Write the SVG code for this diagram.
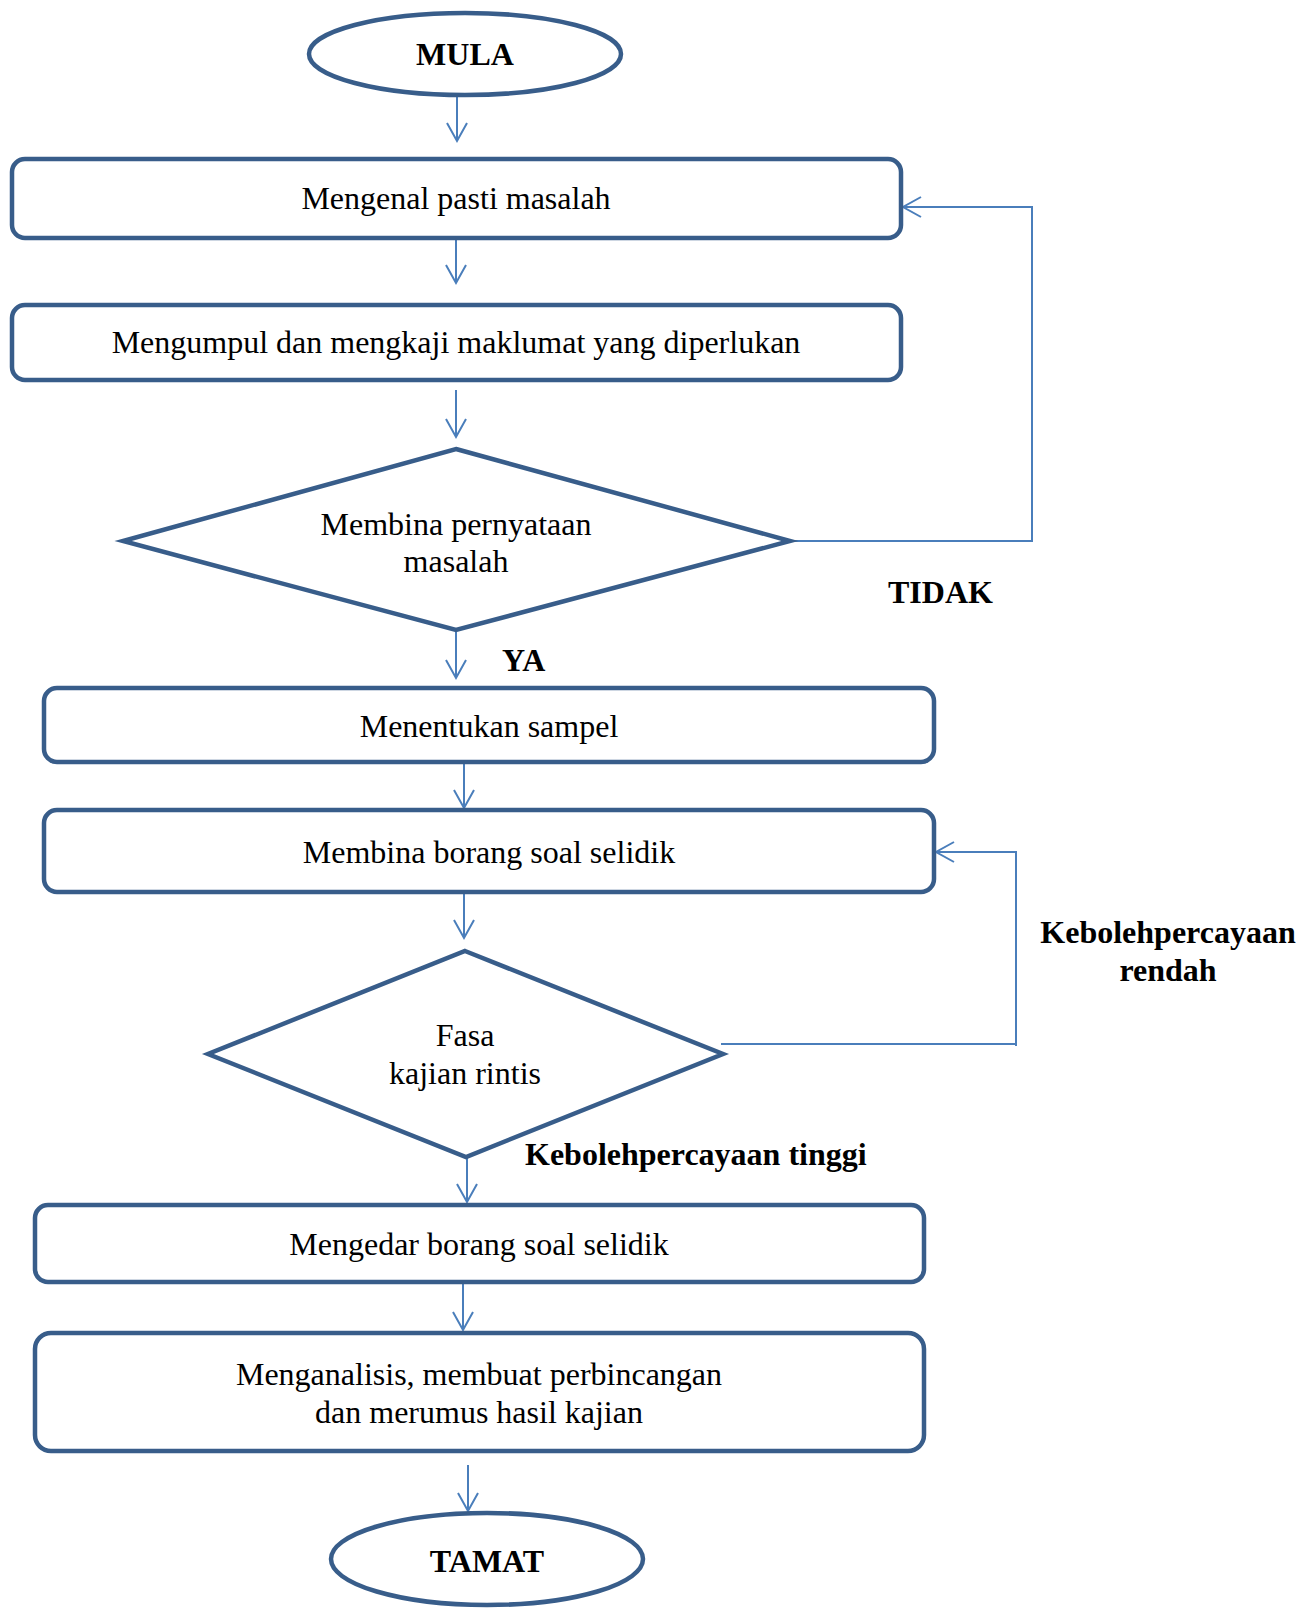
<svg xmlns="http://www.w3.org/2000/svg" width="1311" height="1608" viewBox="0 0 1311 1608">
<style>
.node{fill:#fff;stroke:#385D8A;stroke-width:4.5}
.t{font-family:"Liberation Serif","Times New Roman",serif;font-size:32px;fill:#000;text-anchor:middle}
.b{font-family:"Liberation Serif","Times New Roman",serif;font-size:32px;font-weight:bold;fill:#000}
.c{fill:none;stroke:#4A7EBB;stroke-width:2}
</style>
<defs>
<marker id="ah" viewBox="-20 -12 23 24" refX="0" refY="0" markerWidth="23" markerHeight="24" markerUnits="userSpaceOnUse" orient="auto">
<path d="M-18,-10 L0,0 L-18,10" fill="none" stroke="#4A7EBB" stroke-width="2"/>
</marker>
</defs>
<rect width="1311" height="1608" fill="#fff"/>
<g id="connectors">
<path class="c" d="M457,95 V141" marker-end="url(#ah)"/>
<path class="c" d="M456,240 V283" marker-end="url(#ah)"/>
<path class="c" d="M456,390 V437" marker-end="url(#ah)"/>
<path class="c" d="M790,541 H1032 V207 H903" marker-end="url(#ah)"/>
<path class="c" d="M456,632 V678" marker-end="url(#ah)"/>
<path class="c" d="M464,764 V808" marker-end="url(#ah)"/>
<path class="c" d="M464,894 V938" marker-end="url(#ah)"/>
<path class="c" d="M721,1044 H1016"/>
<path class="c" d="M1016,1046 V852 H936" marker-end="url(#ah)"/>
<path class="c" d="M467,1158 V1202" marker-end="url(#ah)"/>
<path class="c" d="M463,1284 V1330" marker-end="url(#ah)"/>
<path class="c" d="M468,1465 V1511" marker-end="url(#ah)"/>
</g>
<g id="mula">
<ellipse class="node" cx="465" cy="54" rx="156" ry="41"/>
<text class="b" x="465" y="65" text-anchor="middle">MULA</text>
</g>
<g id="kenal">
<rect class="node" x="12" y="159" width="889" height="79" rx="13"/>
<text class="t" x="456" y="209">Mengenal pasti masalah</text>
</g>
<g id="kumpul">
<rect class="node" x="12" y="305" width="889" height="75" rx="13"/>
<text class="t" x="456" y="353">Mengumpul dan mengkaji maklumat yang diperlukan</text>
</g>
<g id="pernyataan">
<polygon class="node" points="456,449 790,541 456,630 123,541"/>
<text class="t" x="456" y="535">Membina pernyataan</text>
<text class="t" x="456" y="572">masalah</text>
</g>
<g id="label-tidak">
<text class="b" x="888" y="603">TIDAK</text>
</g>
<g id="label-ya">
<text class="b" x="502" y="671">YA</text>
</g>
<g id="sampel">
<rect class="node" x="44" y="688" width="890" height="74" rx="13"/>
<text class="t" x="489" y="737">Menentukan sampel</text>
</g>
<g id="borang">
<rect class="node" x="44" y="810" width="890" height="82" rx="13"/>
<text class="t" x="489" y="863">Membina borang soal selidik</text>
</g>
<g id="rintis">
<polygon class="node" points="465,951 723,1054 466,1157 208,1054"/>
<text class="t" x="465" y="1046">Fasa</text>
<text class="t" x="465" y="1084">kajian rintis</text>
</g>
<g id="label-rendah">
<text class="b" x="1168" y="943" text-anchor="middle">Kebolehpercayaan</text>
<text class="b" x="1168" y="981" text-anchor="middle">rendah</text>
</g>
<g id="label-tinggi">
<text class="b" x="525" y="1165">Kebolehpercayaan tinggi</text>
</g>
<g id="edar">
<rect class="node" x="35" y="1205" width="889" height="77" rx="13"/>
<text class="t" x="479" y="1255">Mengedar borang soal selidik</text>
</g>
<g id="analisis">
<rect class="node" x="35" y="1333" width="889" height="118" rx="16"/>
<text class="t" x="479" y="1385">Menganalisis, membuat perbincangan</text>
<text class="t" x="479" y="1423">dan merumus hasil kajian</text>
</g>
<g id="tamat">
<ellipse class="node" cx="487" cy="1559" rx="156" ry="46"/>
<text class="b" x="487" y="1572" text-anchor="middle">TAMAT</text>
</g>
</svg>
